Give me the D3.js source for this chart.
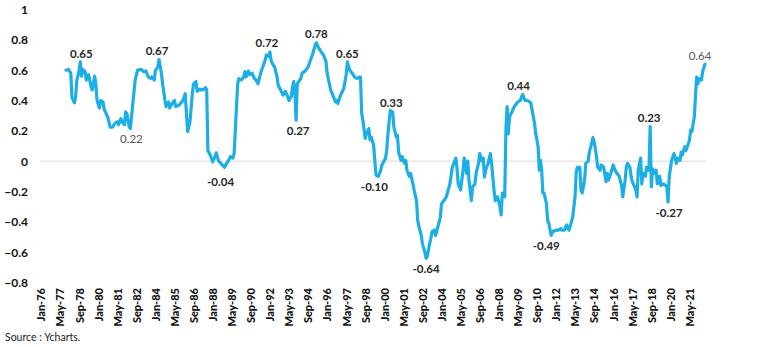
<!DOCTYPE html>
<html>
<head>
<meta charset="utf-8">
<script src="https://cdn.jsdelivr.net/npm/d3@7/dist/d3.min.js"></script>
<style>
  html, body { margin: 0; padding: 0; background: #fff; }
  svg { display: block; }
  text { font-family: Lato, "Liberation Sans", sans-serif; }
</style>
</head>
<body>
<svg id="chart" width="772" height="347"></svg>
<script>
// ---------- DATA ----------
// month labels shown on the x axis (every 16 months)
const tickLabels = ["Jan-76","May-77","Sep-78","Jan-80","May-81","Sep-82","Jan-84","May-85","Sep-86",
  "Jan-88","May-89","Sep-90","Jan-92","May-93","Sep-94","Jan-96","May-97","Sep-98","Jan-00",
  "May-01","Sep-02","Jan-04","May-05","Sep-06","Jan-08","May-09","Sep-10","Jan-12","May-13",
  "Sep-14","Jan-16","May-17","Sep-18","Jan-20","May-21"];

// y-axis tick values
const yTicks = [1, 0.8, 0.6, 0.4, 0.2, 0, -0.2, -0.4, -0.6, -0.8];

const obsMonth = [21,23,25,26,28,29,30,32,33,34,35,37,38,40,42,43,45,46,47,49,50,52,53,54,56,58,60,62,64,65,67,68,70,71,72,74,75,77,79,81,84,86,88,90,92,93,95,96,98,99,101,102,104,105,107,108,110,112,113,116,119,121,122,123,125,127,128,130,131,133,135,137,138,139,140,142,143,144,146,147,149,151,152,154,155,157,159,161,162,164,165,166,168,170,171,172,174,175,177,179,180,182,184,185,186,188,189,191,192,193,194,196,198,199,201,203,205,207,208,210,211,212,213,214,215,217,218,219,221,223,224,226,228,230,231,233,235,237,239,240,243,245,247,248,249,251,254,256,257,259,261,263,265,267,268,269,270,272,273,275,276,277,279,280,281,283,285,286,289,290,291,293,294,295,296,298,299,300,302,303,305,306,307,309,310,312,313,315,316,317,319,320,322,323,324,326,327,328,330,331,333,335,336,338,340,343,345,348,349,350,352,354,355,357,358,359,361,362,364,365,367,368,370,371,372,373,375,377,378,380,381,383,385,386,387,389,390,391,392,393,395,397,399,400,402,404,406,408,410,411,412,414,415,416,417,418,419,420,421,422,424,425,426,428,429,432,434,436,437,439,441,442,443,446,448,449,450,452,453,454,456,457,459,460,462,463,464,466,467,469,470,472,474,475,476,478,480,481,483,485,487,488,490,491,492,494,495,496,498,499,500,501,503,504,505,507,508,510,511,512,513,515,516,517,519,520,522,524,525,526,527,529,530,531,533,534,536,537,538,540,541,543,544,545,546,548,549,550,551,552,554,555,557];

const obsValue = [0.60,0.605,0.58,0.42,0.385,0.42,0.53,0.60,0.655,0.56,0.605,0.59,0.535,0.57,0.49,0.47,0.56,0.51,0.40,0.35,0.40,0.39,0.34,0.325,0.29,0.225,0.225,0.25,0.26,0.24,0.28,0.26,0.24,0.325,0.315,0.225,0.215,0.38,0.535,0.60,0.605,0.59,0.595,0.555,0.545,0.555,0.535,0.60,0.62,0.67,0.58,0.51,0.40,0.36,0.39,0.35,0.38,0.40,0.36,0.37,0.40,0.445,0.315,0.195,0.26,0.45,0.51,0.525,0.46,0.475,0.47,0.475,0.485,0.47,0.07,0.04,0.02,-0.005,0.03,0.055,0.00,-0.015,-0.025,-0.04,-0.025,0.00,0.03,0.02,0.05,0.36,0.51,0.545,0.535,0.555,0.59,0.555,0.595,0.57,0.58,0.545,0.54,0.51,0.57,0.60,0.62,0.665,0.70,0.69,0.72,0.665,0.645,0.62,0.555,0.50,0.47,0.435,0.46,0.425,0.40,0.425,0.49,0.525,0.45,0.27,0.51,0.535,0.545,0.58,0.59,0.61,0.62,0.665,0.71,0.765,0.78,0.745,0.72,0.70,0.66,0.58,0.47,0.43,0.39,0.40,0.38,0.43,0.48,0.57,0.655,0.60,0.58,0.555,0.545,0.555,0.555,0.315,0.27,0.15,0.18,0.215,0.14,0.16,0.105,0.005,-0.09,-0.10,-0.06,-0.025,0.02,0.07,0.18,0.335,0.315,0.325,0.225,0.16,0.17,0.06,0.005,0.03,-0.015,0.005,-0.06,-0.10,-0.08,-0.15,-0.19,-0.26,-0.39,-0.43,-0.49,-0.545,-0.60,-0.64,-0.63,-0.545,-0.51,-0.465,-0.455,-0.49,-0.43,-0.37,-0.28,-0.26,-0.235,-0.15,-0.04,0.02,-0.05,-0.15,-0.19,-0.06,0.02,-0.08,0.00,-0.125,-0.26,-0.17,-0.15,-0.08,-0.015,0.05,0.00,0.02,-0.105,-0.06,-0.015,0.05,-0.015,-0.19,-0.26,-0.235,-0.30,-0.355,-0.21,-0.235,0.205,0.36,0.18,0.29,0.325,0.36,0.38,0.39,0.40,0.44,0.40,0.40,0.39,0.38,0.335,0.25,0.18,0.14,0.095,-0.06,0.005,-0.06,-0.21,-0.21,-0.28,-0.39,-0.41,-0.49,-0.465,-0.455,-0.455,-0.445,-0.455,-0.455,-0.42,-0.445,-0.455,-0.37,-0.235,-0.07,-0.04,-0.04,-0.19,-0.21,-0.125,-0.015,0.00,0.06,0.12,0.155,0.13,0.03,-0.04,-0.06,-0.025,-0.04,-0.135,-0.08,-0.125,-0.08,-0.025,-0.05,-0.08,-0.10,-0.16,-0.235,-0.125,-0.04,-0.015,-0.04,-0.10,-0.135,-0.17,-0.19,-0.235,-0.06,0.02,-0.15,-0.08,-0.10,-0.04,-0.06,0.23,-0.17,-0.05,-0.08,-0.06,-0.15,-0.10,-0.16,-0.15,-0.16,-0.17,-0.27,-0.10,0.005,0.03,0.05,-0.015,0.02,0.005,0.06,0.04,0.095,0.07,0.115,0.14,0.205,0.195,0.29,0.425,0.555,0.51,0.545,0.535,0.59,0.64];

// annotated extremes
const annoText  = ["0.65","0.22","0.67","-0.04","0.72","0.27","0.78","0.65","0.33","-0.10","-0.64","0.44","-0.49","0.23","-0.27","0.64"];
const annoMonth = [33,75,99,154,192,214,231,257,293,283,323,404,428,511,526,557];
const annoValue = [0.65,0.22,0.67,-0.04,0.72,0.27,0.78,0.65,0.33,-0.10,-0.64,0.44,-0.49,0.23,-0.27,0.64];

// ---------- LAYOUT / STYLE ----------
const annoSide  = ["a","b","a","b","a","b","a","a","a","b","b","a","b","a","b","a"];
const annoDx    = [1,1,-2,-4,-3,2,0,0,1,-4,0,-4,-5,-1,1,-5];
const annoDy    = [0,0,0,4,0,0,0,0,0,0,0,0,0,0,0,0];
const annoLight = [false,true,false,false,false,false,false,false,false,false,false,false,false,false,false,true];

const nMonths = 558;
const mNames = ["Jan","Feb","Mar","Apr","May","Jun","Jul","Aug","Sep","Oct","Nov","Dec"];
const categories = d3.range(nMonths).map(i => mNames[i % 12] + "-" + String((76 + Math.floor(i / 12)) % 100).padStart(2, "0"));

const svg = d3.select("#chart");
svg.append("rect").attr("width", 772).attr("height", 347).attr("fill", "#fff");

const x = d3.scalePoint().domain(categories).range([41, 705]);
const y = d3.scaleLinear().domain([-0.8, 1]).range([282.5, 9.5]);

// y axis labels
const yAxis = d3.axisLeft(y).tickValues(yTicks).tickSize(0).tickPadding(0)
  .tickFormat(d => d === 0 ? "0" : d3.format("")(+d.toFixed(1)));
const gy = svg.append("g").attr("transform", "translate(28,0)").call(yAxis);
gy.select(".domain").remove();
gy.selectAll("text").attr("font-family", "Lato, sans-serif").attr("font-size", 12)
  .attr("font-weight", 700).attr("fill", "#111");

// zero gridline
svg.append("line").attr("x1", 40).attr("x2", 705).attr("y1", y(0)).attr("y2", y(0))
  .attr("stroke", "#d9d9d9").attr("stroke-width", 1);

// x axis labels
const xAxis = d3.axisBottom(x).tickValues(tickLabels).tickSize(0).tickPadding(0);
const gx = svg.append("g").attr("transform", "translate(0,282)").call(xAxis);
gx.select(".domain").remove();
gx.selectAll("text")
  .attr("transform", "rotate(-90)")
  .attr("x", -6).attr("y", 0).attr("dy", "0.35em")
  .attr("text-anchor", "end")
  .attr("font-family", "Lato, sans-serif").attr("font-size", 11)
  .attr("font-weight", 900).attr("fill", "#111");

// line
const line = d3.line()
  .x((d, i) => x(categories[obsMonth[i]]))
  .y(d => y(d));
svg.append("path").datum(obsValue)
  .attr("d", line)
  .attr("fill", "none")
  .attr("stroke", "#1eaee6")
  .attr("stroke-width", 3.2)
  .attr("stroke-linejoin", "round")
  .attr("stroke-linecap", "round");

// annotations
svg.append("g").selectAll("text").data(annoText).join("text")
  .attr("x", (d, i) => x(categories[annoMonth[i]]) + annoDx[i])
  .attr("y", (d, i) => y(annoValue[i]) + (annoSide[i] === "a" ? -4.5 : 15) + annoDy[i])
  .attr("text-anchor", "middle")
  .attr("font-size", 11.5)
  .attr("font-weight", (d, i) => annoLight[i] ? 400 : 700)
  .attr("fill", (d, i) => annoLight[i] ? "#555" : "#262626")
  .text(d => d);

// source
svg.append("text").attr("x", 5).attr("y", 341)
  .attr("font-size", 10.5).attr("fill", "#1a1a1a")
  .text("Source : Ycharts.");
</script>
</body>
</html>
